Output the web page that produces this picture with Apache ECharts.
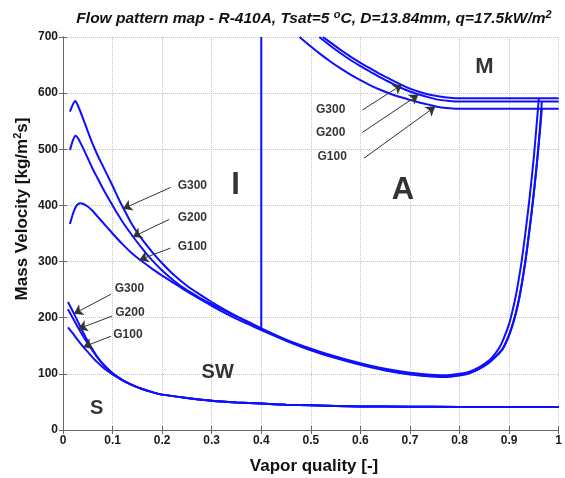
<!DOCTYPE html>
<html>
<head>
<meta charset="utf-8">
<script src="https://cdn.jsdelivr.net/npm/echarts@6/dist/echarts.min.js"></script>
<style>html,body{margin:0;padding:0;background:#fff}#c{width:565px;height:478px}</style>
</head>
<body>
<div id="c"></div>
<script>
// ---------- data ----------
const curveNames = ['G300', 'G200', 'G100'];

// stratified / stratified-wavy boundary (lower curves)
const sG300 = [[0.01,228],[0.02,211],[0.03,193],[0.04,175],[0.05,158],[0.06,143],[0.07,129],[0.08,118],[0.09,109],[0.1,101],[0.12,89],[0.14,80],[0.16,73],[0.18,67.5],[0.2,63],[0.25,57],[0.3,52],[0.35,49],[0.4,47],[0.45,45],[0.5,44],[0.6,42],[0.7,41.5],[0.8,41],[1,41]];
const sG200 = [[0.01,215],[0.02,199],[0.03,183],[0.04,168],[0.05,154],[0.06,141],[0.07,129],[0.08,118],[0.09,109],[0.1,101],[0.12,89],[0.14,80],[0.16,73],[0.18,67.5],[0.2,63],[0.25,57],[0.3,52],[0.35,49],[0.4,47],[0.45,45],[0.5,44],[0.6,42],[0.7,41.5],[0.8,41],[1,41]];
const sG100 = [[0.01,183],[0.02,172],[0.03,160],[0.04,149],[0.05,139],[0.06,129],[0.07,120],[0.08,112],[0.09,105],[0.1,99],[0.12,88.5],[0.14,80],[0.16,73],[0.18,67.5],[0.2,63],[0.25,57],[0.3,52],[0.35,49],[0.4,47],[0.45,45],[0.5,44],[0.6,42],[0.7,41.5],[0.8,41],[1,41]];

// stratified-wavy upper boundary
const swG300 = [[0.014,567],[0.02,580],[0.025,586],[0.03,578],[0.04,556],[0.05,532],[0.06,509],[0.07,489],[0.08,471],[0.09,453],[0.1,435],[0.11,416],[0.12,398],[0.14,365],[0.16,339],[0.18,317],[0.2,297],[0.225,275],[0.25,257],[0.275,242],[0.3,228],[0.325,215],[0.35,203],[0.375,192],[0.4,181],[0.45,161],[0.5,145],[0.55,131],[0.6,119],[0.65,109],[0.7,102],[0.75,98],[0.775,97.5],[0.8,100],[0.82,104],[0.84,112],[0.86,124],[0.872,136],[0.882,149],[0.891,167],[0.9,189],[0.907,213],[0.914,241],[0.92,271],[0.926,305],[0.932,345],[0.938,388],[0.944,435],[0.95,487],[0.955,538],[0.96,591]];
const swG200 = [[0.014,499],[0.02,516],[0.025,524],[0.03,520],[0.04,503],[0.05,484],[0.06,465],[0.07,448],[0.08,431],[0.09,415],[0.1,400],[0.11,385],[0.12,371],[0.14,346],[0.16,323],[0.18,302],[0.2,284],[0.225,265],[0.25,249],[0.275,236],[0.3,224],[0.325,213],[0.35,202],[0.375,191],[0.4,180],[0.45,160],[0.5,143],[0.55,129],[0.6,117],[0.65,107],[0.7,100],[0.75,96],[0.775,95.5],[0.8,98],[0.82,102],[0.84,110],[0.86,121],[0.875,133],[0.887,145],[0.897,163],[0.906,185],[0.914,210],[0.921,238],[0.927,268],[0.933,302],[0.939,342],[0.945,385],[0.951,432],[0.957,484],[0.962,535],[0.966,585]];
const swG100 = [[0.014,367],[0.02,385],[0.025,396],[0.03,402],[0.035,404],[0.04,403],[0.05,398],[0.06,390],[0.07,380],[0.08,370],[0.09,360],[0.1,350],[0.12,331],[0.14,314],[0.16,300],[0.18,287],[0.2,275],[0.225,261],[0.25,247],[0.275,234],[0.3,221],[0.325,209],[0.35,198],[0.375,188],[0.4,178],[0.45,159],[0.5,142],[0.55,128],[0.6,116],[0.65,106],[0.7,99],[0.75,95],[0.775,94.5],[0.8,97],[0.82,101],[0.84,109],[0.86,120],[0.875,132],[0.887,144],[0.897,162],[0.906,184],[0.914,209],[0.921,237],[0.927,267],[0.933,301],[0.939,341],[0.945,384],[0.951,431],[0.957,483],[0.962,530],[0.966,572]];

// intermittent / annular transition
const iaLine = [[0.4,179],[0.4,700]];

// annular / mist boundary
const mG300 = [[0.524,700],[0.54,690],[0.56,677],[0.58,665],[0.6,654],[0.62,644],[0.64,634],[0.66,625],[0.68,616],[0.7,608],[0.72,602],[0.74,597],[0.76,594],[0.78,592],[0.8,591],[1,591]];
const mG200 = [[0.517,700],[0.54,684],[0.56,671],[0.58,659],[0.6,648],[0.62,638],[0.64,628],[0.66,619],[0.68,610],[0.7,603],[0.72,597],[0.74,592],[0.76,588],[0.78,586],[0.8,585],[1,585]];
const mG100 = [[0.477,700],[0.5,683],[0.52,669],[0.54,656],[0.56,644],[0.58,633],[0.6,623],[0.62,614],[0.64,606],[0.66,599],[0.68,593],[0.7,588],[0.72,583],[0.74,579],[0.76,575],[0.78,573],[0.8,572],[1,572]];

// annotation arrows (start -> end) and label anchors, in data units
const arrowsSW = [[[0.217,432],[0.121,394]],[[0.214,375],[0.141,344]],[[0.217,324],[0.154,303]]];
const labelsSW = [[0.261,435],[0.261,379],[0.261,326]];
const arrowsS  = [[[0.097,242],[0.022,207]],[[0.099,203],[0.031,180]],[[0.097,167],[0.041,148]]];
const labelsS  = [[0.134,251],[0.135,209],[0.131,169]];
const arrowsM  = [[[0.604,570],[0.684,615]],[[0.604,530],[0.717,597]],[[0.607,484],[0.751,576]]];
const labelsM  = [[0.54,570],[0.54,529],[0.543,486]];

const regionNames = ['I','A','M','SW','S'];
const regionPos = [[0.348,435],[0.686,427],[0.85,647],[0.312,103],[0.068,39]];
const regionSizes = [31,31,22,20,20];

// ---------- chart ----------
const FONT = '"Liberation Sans", Arial, Helvetica, sans-serif';
const BLUE = '#0f0fff';
const chart = echarts.init(document.getElementById('c'), null, {renderer:'canvas'});

function curve(data){
  return {type:'line', data:data, showSymbol:false, symbol:'none', smooth:0.2,
    lineStyle:{color:BLUE, width:2}, silent:true, z:3, clip:true};
}
function arrows(list){
  return {type:'lines', coordinateSystem:'cartesian2d', symbol:['none','arrow'], symbolSize:[6,9],
    lineStyle:{color:'#333', width:1, opacity:1}, silent:true, z:4,
    data:list.map(a=>({coords:a}))};
}
function labels(pos, names, size){
  return {type:'scatter', symbolSize:0, silent:true, z:5,
    data:pos.map((p,i)=>[p[0],p[1],names[i]]),
    label:{show:true, position:'inside', formatter:p=>p.data[2], color:'#000',
      fontFamily:FONT, fontWeight:'bold', fontSize:size}};
}

const gridLine = {show:true, lineStyle:{color:'#c4c4c4', type:'dotted', width:1}};
const axLine = {show:true, lineStyle:{color:'#666', width:1}};
const tick = {show:true, inside:true, length:4, lineStyle:{color:'#666'}};
const tickLabel = {color:'#1a1a1a', fontFamily:FONT, fontWeight:'bold', fontSize:12};

chart.setOption({
  animation:false,
  backgroundColor:'#fff',
  grid:{left:63, right:1, top:37, bottom:48, containLabel:false},
  xAxis:[
    {type:'value', min:0, max:1, interval:0.1, position:'bottom', axisLine:axLine, axisTick:tick,
     splitLine:gridLine, axisLabel:Object.assign({margin:5, showMaxLabel:true}, tickLabel)},
    {type:'value', min:0, max:1, interval:0.1, position:'top', axisLine:axLine, axisTick:tick,
     splitLine:{show:false}, axisLabel:{show:false}}
  ],
  yAxis:[
    {type:'value', min:0, max:700, interval:100, position:'left', axisLine:axLine, axisTick:tick,
     splitLine:gridLine, axisLabel:Object.assign({margin:5}, tickLabel)},
    {type:'value', min:0, max:700, interval:100, position:'right', axisLine:axLine, axisTick:tick,
     splitLine:{show:false}, axisLabel:{show:false}}
  ],
  graphic:[
    {type:'text', x:314, y:19, silent:true, style:{
      text:'{t|Flow pattern map - R-410A, Tsat=5 }{s|o}{t|C, D=13.84mm, q=17.5kW/m}{s|2}',
      align:'center', verticalAlign:'middle',
      rich:{
        t:{fontFamily:FONT, fontWeight:'bold', fontStyle:'italic', fontSize:15.5, fill:'#111', lineHeight:19},
        s:{fontFamily:FONT, fontWeight:'bold', fontStyle:'italic', fontSize:11, fill:'#111', verticalAlign:'top', lineHeight:10}
      }}},
    {type:'text', x:314, y:466, silent:true, style:{
      text:'Vapor quality [-]', fontFamily:FONT, fontWeight:'bold', fontSize:17, fill:'#111',
      align:'center', verticalAlign:'middle'}},
    {type:'text', x:22, y:209, rotation:Math.PI/2, silent:true, style:{
      text:'{t|Mass Velocity [kg/m}{s|2}{t|s]}',
      align:'center', verticalAlign:'middle',
      rich:{
        t:{fontFamily:FONT, fontWeight:'bold', fontSize:17, fill:'#111', lineHeight:20},
        s:{fontFamily:FONT, fontWeight:'bold', fontSize:11, fill:'#111', verticalAlign:'top', lineHeight:10}
      }}}
  ],
  series:[
    curve(sG300), curve(sG200), curve(sG100),
    curve(swG300), curve(swG200), curve(swG100),
    Object.assign(curve(iaLine), {smooth:false}),
    curve(mG300), curve(mG200), curve(mG100),
    arrows(arrowsSW), arrows(arrowsS), arrows(arrowsM),
    labels(labelsSW, curveNames, 12), labels(labelsS, curveNames, 12), labels(labelsM, curveNames, 12),
    {type:'scatter', symbolSize:0, silent:true, z:5,
     data:regionPos.map((p,i)=>({value:[p[0],p[1]], name:regionNames[i],
       label:{fontSize:regionSizes[i]}})),
     label:{show:true, position:'inside', formatter:p=>p.name, color:'#000',
       fontFamily:FONT, fontWeight:'bold'}}
  ]
});
</script>
</body>
</html>
